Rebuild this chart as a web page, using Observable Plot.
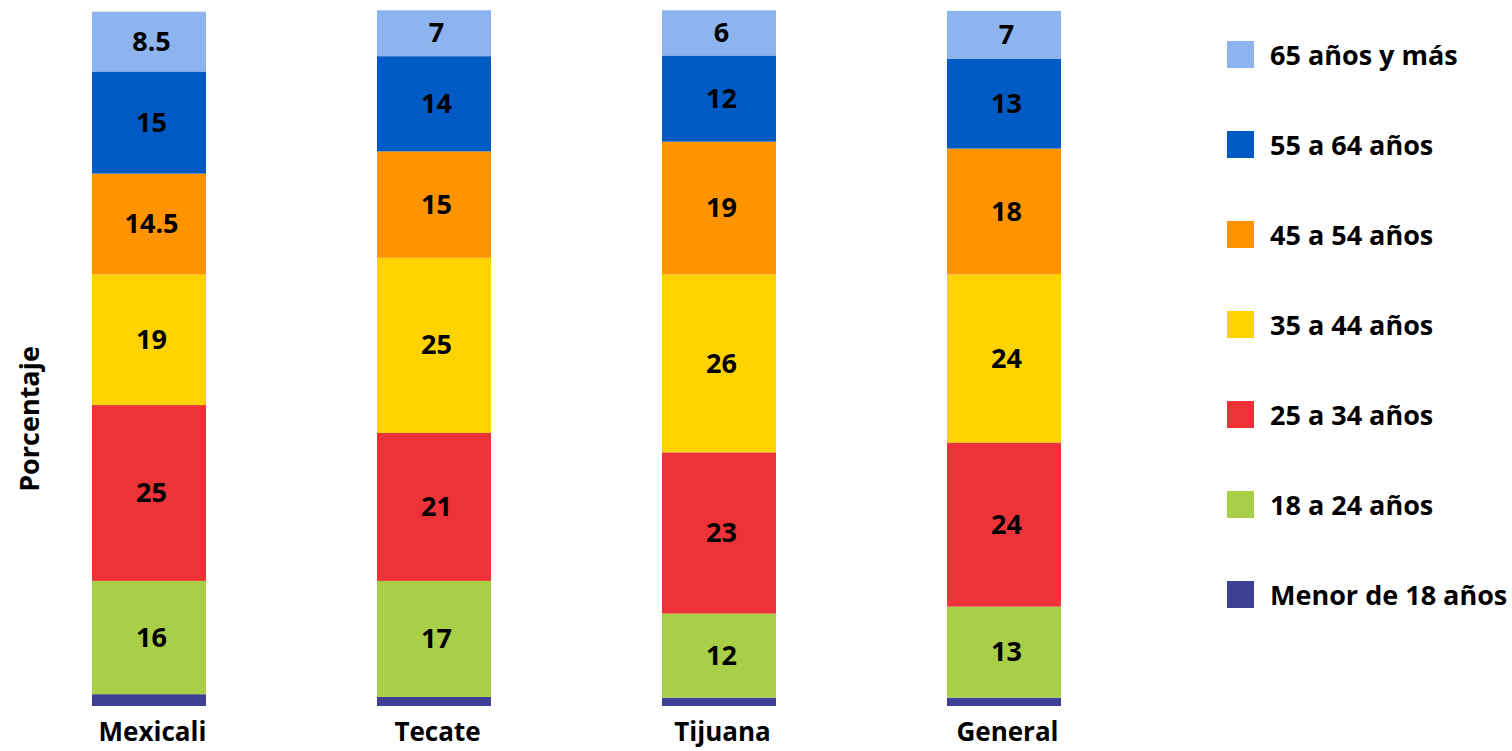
<!DOCTYPE html>
<html>
<head>
<meta charset="utf-8">
<script src="https://cdn.jsdelivr.net/npm/d3@7"></script>
<script src="https://cdn.jsdelivr.net/npm/@observablehq/plot@0.6"></script>
<style>
  html, body { margin: 0; padding: 0; background: #fff; }
  #wrap { position: relative; width: 1512px; height: 751px; font-family: "Open Sans", Lato, sans-serif; overflow: hidden; }
  #legend { position: absolute; left: 1227px; top: 41px; }
  .item { position: absolute; left: 0; height: 27px; display: flex; align-items: center; white-space: nowrap; }
  .sw { width: 27px; height: 27px; margin-right: 16px; flex: none; }
  .lab { font-weight: bold; font-size: 27px; color: #000; line-height: 27px; }
  #ylab { position: absolute; left: 28px; top: 419px; transform: translate(-50%, -50%) rotate(-90deg);
          font-weight: bold; font-size: 27px; color: #000; white-space: nowrap; line-height: 1; }
</style>
</head>
<body>
<div id="wrap"><div id="legend"></div><div id="ylab">Porcentaje</div></div>
<script>
const categories = ["Mexicali", "Tecate", "Tijuana", "General"];
const ageGroups = ["Menor de 18 años", "18 a 24 años", "25 a 34 años", "35 a 44 años", "45 a 54 años", "55 a 64 años", "65 años y más"];
const colors = ["#3F3F96", "#A9CF49", "#EE3338", "#FFD300", "#FF9400", "#005AC4", "#8DB4EF"];

// values per age group, in order of categories
const menor18 = [1.7, 1.3, 1.2, 1.2];
const a18_24 = [16.3, 16.7, 12.1, 13.1];
const a25_34 = [25.3, 21.3, 23.2, 23.6];
const a35_44 = [18.8, 25.2, 25.6, 24.2];
const a45_54 = [14.5, 15.3, 19.1, 18.1];
const a55_64 = [14.7, 13.7, 12.4, 12.9];
const a65mas = [8.6, 6.6, 6.5, 6.9];

// printed labels
const lab18_24 = ["16", "17", "12", "13"];
const lab25_34 = ["25", "21", "23", "24"];
const lab35_44 = ["19", "25", "26", "24"];
const lab45_54 = ["14.5", "15", "19", "18"];
const lab55_64 = ["15", "14", "12", "13"];
const lab65mas = ["8.5", "7", "6", "7"];

const seriesValues = [menor18, a18_24, a25_34, a35_44, a45_54, a55_64, a65mas];
const seriesLabels = [null, lab18_24, lab25_34, lab35_44, lab45_54, lab55_64, lab65mas];

const table = [];
ageGroups.forEach((g, gi) => {
  categories.forEach((c, ci) => {
    table.push({city: c, group: g, value: seriesValues[gi][ci], label: seriesLabels[gi] ? seriesLabels[gi][ci] : ""});
  });
});

const font = "'Open Sans', Lato, sans-serif";

const chart = Plot.plot({
  width: 1512,
  height: 751,
  marginTop: 11,
  marginBottom: 45,
  marginLeft: 33,
  marginRight: 393,
  style: {fontFamily: font, background: "white", overflow: "visible"},
  x: {domain: categories, paddingInner: 0.6, paddingOuter: 0.2, label: null},
  y: {domain: [0, 100], axis: null},
  color: {domain: ageGroups, range: colors},
  marks: [
    Plot.barY(table, Plot.stackY({x: "city", y: "value", fill: "group", order: ageGroups})),
    Plot.text(table, Plot.stackY({x: "city", y: "value", z: "group", text: "label", order: ageGroups,
      fontSize: 27, fontWeight: "bold", fill: "black", dx: 2})),
    Plot.axisX({tickSize: 0, tickPadding: 16, fontSize: 26, fontWeight: "bold", fill: "black", dx: 3, label: null})
  ]
});
document.getElementById("wrap").prepend(chart);

const legend = document.getElementById("legend");
const legendOrder = ageGroups.slice().reverse();
legendOrder.forEach((g, i) => {
  const item = document.createElement("div");
  item.className = "item";
  item.style.top = (i * 90) + "px";
  const sw = document.createElement("div");
  sw.className = "sw";
  sw.style.background = colors[ageGroups.indexOf(g)];
  const lab = document.createElement("span");
  lab.className = "lab";
  lab.textContent = g;
  item.appendChild(sw);
  item.appendChild(lab);
  legend.appendChild(item);
});
</script>
</body>
</html>
